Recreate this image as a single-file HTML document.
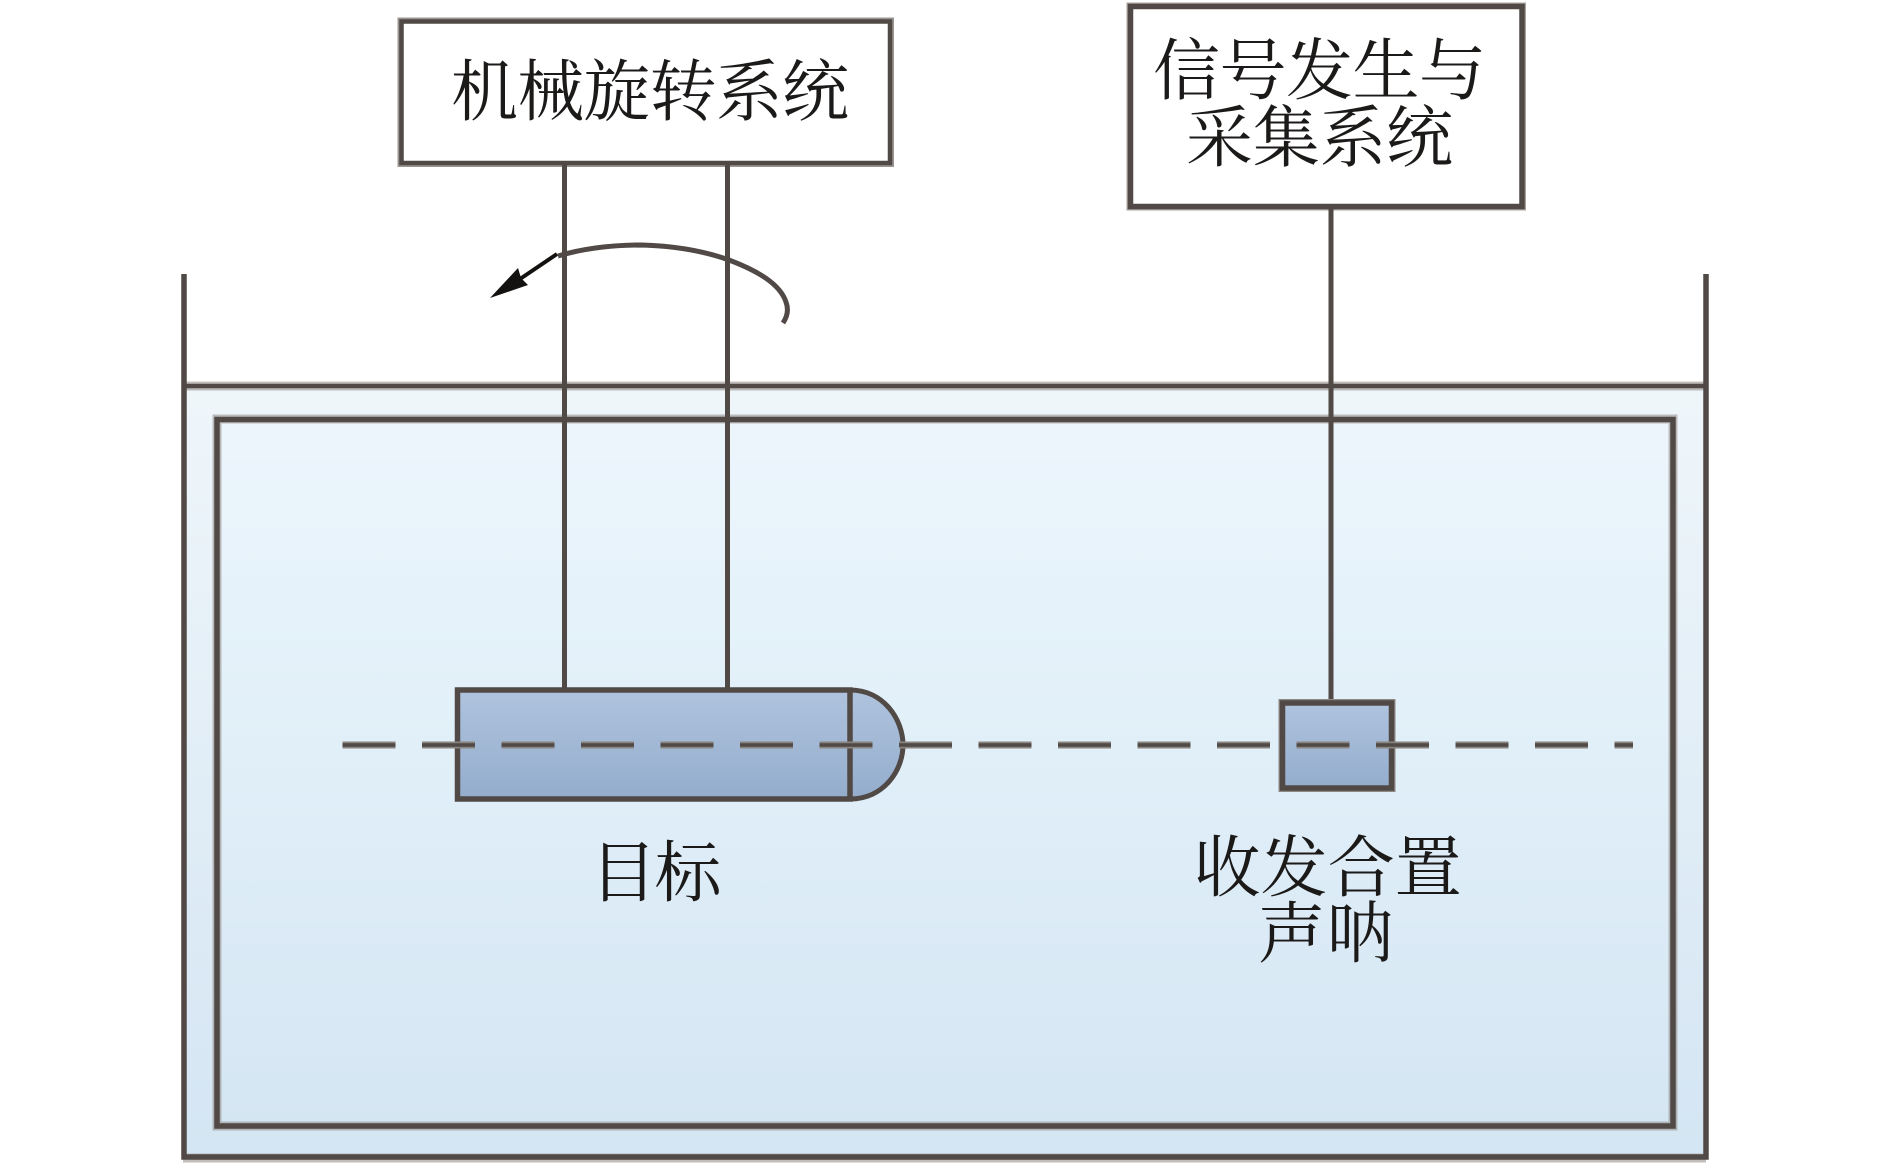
<!DOCTYPE html>
<html lang="zh">
<head>
<meta charset="utf-8">
<title>Diagram</title>
<style>
html,body{margin:0;padding:0;background:#fff;width:1890px;height:1164px;overflow:hidden}
svg{display:block}
text{font-family:"Liberation Serif","Noto Serif CJK SC",serif;font-size:67px;fill:#1c1a19}
</style>
</head>
<body>
<svg width="1890" height="1164" viewBox="0 0 1890 1164" xmlns="http://www.w3.org/2000/svg">
<defs>
<linearGradient id="w1" x1="0" y1="0" x2="0" y2="1">
<stop offset="0" stop-color="#eff6fa"/><stop offset="1" stop-color="#d4e5f3"/>
</linearGradient>
<linearGradient id="w2" x1="0" y1="0" x2="0" y2="1">
<stop offset="0" stop-color="#edf5fc"/><stop offset="0.28" stop-color="#e5f2fa"/><stop offset="1" stop-color="#d5e6f3"/>
</linearGradient>
<linearGradient id="b1" x1="0" y1="0" x2="0" y2="1">
<stop offset="0" stop-color="#afc3de"/><stop offset="1" stop-color="#94adcd"/>
</linearGradient>
</defs>

<!-- tank water -->
<rect x="183" y="386" width="1523" height="771" fill="url(#w1)"/>
<rect x="217" y="420" width="1456" height="706" fill="url(#w2)"/>

<!-- soft edges -->
<g fill="none" stroke-opacity="0.55" stroke="#8f8985">
<rect x="217" y="419" width="1456" height="707" stroke-width="9"/>
<line x1="183" y1="386" x2="1706" y2="386" stroke-width="9"/>
<line x1="183" y1="1158" x2="1706" y2="1158" stroke-width="9"/>
</g>

<!-- tank -->
<g fill="none" stroke="#504945" stroke-width="5.500">
<path d="M184 274V1157H1706V274"/>
<line x1="184" y1="386" x2="1706" y2="386" stroke-width="4.500"/>
<rect x="217" y="419.500" width="1456" height="706.500"/>
</g>

<!-- top boxes -->
<rect x="401.500" y="21.500" width="488.500" height="141.500" fill="#fff" stroke="#9b9591" stroke-width="8"/>
<rect x="401.500" y="21.500" width="488.500" height="141.500" fill="#fff" stroke="#504945" stroke-width="4.500"/>
<rect x="1130.500" y="6.500" width="391.500" height="200" fill="#fff" stroke="#a8a29e" stroke-width="8"/>
<rect x="1130.500" y="6.500" width="391.500" height="200" fill="#fff" stroke="#504945" stroke-width="5.500"/>

<!-- connectors -->
<g stroke="#504945" stroke-width="5" fill="none">
<line x1="564.500" y1="165" x2="564.500" y2="692"/>
<line x1="727.500" y1="165" x2="727.500" y2="692"/>
<line x1="1331" y1="208" x2="1331" y2="702"/>
</g>

<!-- target -->
<path d="M850 690C884 690 903 720 903 745C903 770 884 799 850 799Z" fill="url(#b1)" stroke="#504945" stroke-width="5"/>
<rect x="457.500" y="690" width="392.500" height="109" fill="url(#b1)" stroke="#504945" stroke-width="5.500"/>
<line x1="850" y1="690" x2="850" y2="799" stroke="#504945" stroke-width="4.500"/>

<!-- transducer -->
<rect x="1282.500" y="703" width="109" height="85" fill="url(#b1)" stroke="#8f8985" stroke-width="8"/>
<rect x="1282.500" y="703" width="109" height="85" fill="url(#b1)" stroke="#504945" stroke-width="5.500"/>

<!-- dashed axis -->
<line x1="342.500" y1="745" x2="1633" y2="745" stroke="#8a8480" stroke-width="7" stroke-dasharray="53 26.500"/>
<line x1="342.500" y1="745" x2="1633" y2="745" stroke="#504945" stroke-width="3.500" stroke-dasharray="53 26.500"/>

<!-- rotation arrow -->
<path d="M558 256C585 248 615 245 642 245C674 246 704 251 729 260C758 271 780 284 786 302C789 310 787 317 783 323" fill="none" stroke="#504945" stroke-width="5"/>
<line x1="557" y1="254" x2="520" y2="279" stroke="#141210" stroke-width="4"/>
<path d="M490 298L518 268L521 278L528 285Z" fill="#141210"/>

<!-- labels -->
<text x="451 517.200 583.400 649.600 715.800 782" y="115">机械旋转系统</text>
<text x="1153 1219.500 1286 1352.500 1419" y="94">信号发生与</text>
<text x="1186 1252.700 1319.400 1386" y="161">采集系统</text>
<text x="590 654.500" y="896">目标</text>
<text x="1193.500 1260.600 1327.700 1394.800" y="891">收发合置</text>
<text x="1258 1327" y="957">声呐</text>
</svg>
</body>
</html>
